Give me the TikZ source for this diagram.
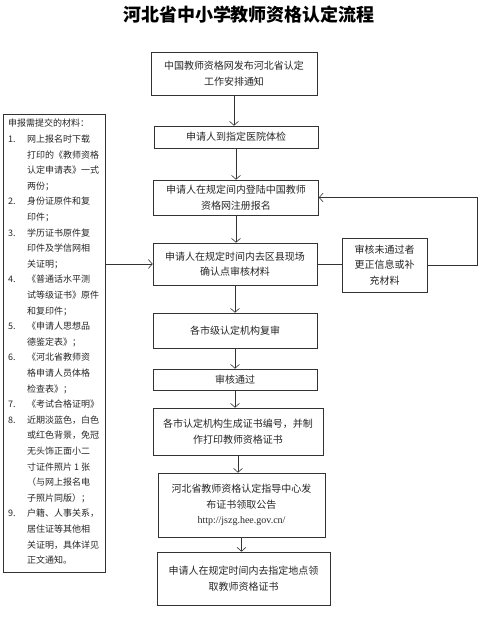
\documentclass[tikz,border=0pt]{standalone}
\usepackage{fontspec}
\usetikzlibrary{arrows.meta,positioning}
\newfontfamily\cjk{Noto Sans CJK SC}
\newfontfamily\urlfont{Liberation Serif}
\newcommand{\itemno}[1]{\makebox[19pt][l]{#1}}
\newcommand{\itemind}{\hspace*{19pt}}

\tikzset{
  stepbox/.style={draw=black!80, line width=0.6pt, rectangle, align=center,
    inner sep=2pt, text=black!85, font=\cjk\fontsize{10}{15.5}\selectfont},
  arr/.style={draw=black!80, line width=0.6pt, -{Straight Barb[length=4pt,width=9pt]}},
  link/.style={draw=black!80, line width=0.6pt},
}

\begin{document}
\begin{tikzpicture}[x=1pt,y=-1pt]
  \useasboundingbox (0,0) rectangle (480,625);

  \node (title) at (249,15) {\cjk\bfseries\fontsize{18}{20}\selectfont 河北省中小学教师资格认定流程};

  % main flow
  \node[stepbox, minimum width=166pt, minimum height=43pt] (notice) at (234,73.5)
    {中国教师资格网发布河北省认定\\工作安排通知};
  \node[stepbox, minimum width=164pt, minimum height=22pt] (exam) at (236,137)
    {申请人到指定医院体检};
  \node[stepbox, minimum width=165pt, minimum height=35pt] (reg) at (236,197.5)
    {申请人在规定间内登陆中国教师\\资格网注册报名};
  \node[stepbox, minimum width=164pt, minimum height=42pt] (check) at (235,264)
    {申请人在规定时间内去区县现场\\确认点审核材料};
  \node[stepbox, minimum width=164pt, minimum height=35pt] (review) at (235,330.5)
    {各市级认定机构复审};
  \node[stepbox, minimum width=164pt, minimum height=21pt] (pass) at (235,379.5)
    {审核通过};
  \node[stepbox, minimum width=170pt, minimum height=47pt] (cert) at (238,431.5)
    {各市认定机构生成证书编号，并制\\作打印教师资格证书};
  \node[stepbox, minimum width=167pt, minimum height=64pt] (announce) at (241.5,505)
    {河北省教师资格认定指导中心发\\布证书领取公告\\{\urlfont\fontsize{10}{15.5}\selectfont http://jszg.hee.gov.cn/}};
  \node[stepbox, minimum width=173pt, minimum height=53pt] (collect) at (243.5,578.5)
    {申请人在规定时间内去指定地点领\\取教师资格证书};

  % side boxes
  \node[stepbox, minimum width=85pt, minimum height=54pt] (fix) at (384.5,265)
    {审核未通过者\\更正信息或补\\充材料};
  \node[draw=black!80, line width=0.6pt, minimum width=102pt, minimum height=458pt] (materials) at (54,343) {};
  \node[anchor=north west, inner sep=0pt, align=left, text=black!85,
    font=\cjk\fontsize{9}{15.6}\selectfont] (materialstext) at (8,119) {%
    申报需提交的材料：\\
    \itemno{1.}网上报名时下载\\
    \itemind 打印的《教师资格\\
    \itemind 认定申请表》一式\\
    \itemind 两份；\\
    \itemno{2.}身份证原件和复\\
    \itemind 印件；\\
    \itemno{3.}学历证书原件复\\
    \itemind 印件及学信网相\\
    \itemind 关证明；\\
    \itemno{4.}《普通话水平测\\
    \itemind 试等级证书》原件\\
    \itemind 和复印件；\\
    \itemno{5.}《申请人思想品\\
    \itemind 德鉴定表》；\\
    \itemno{6.}《河北省教师资\\
    \itemind 格申请人员体格\\
    \itemind 检查表》；\\
    \itemno{7.}《考试合格证明》\\
    \itemno{8.}近期淡蓝色，白色\\
    \itemind 或红色背景，免冠\\
    \itemind 无头饰正面小二\\
    \itemind 寸证件照片 1 张\\
    \itemind （与网上报名电\\
    \itemind 子照片同版）；\\
    \itemno{9.}户籍、人事关系，\\
    \itemind 居住证等其他相\\
    \itemind 关证明，具体详见\\
    \itemind 正文通知。};

  \coordinate (turn) at (477,197.5);

  % connectors
  \draw[arr] (notice.south) -- (notice.south |- exam.north);
  \draw[arr] (exam.south) -- (exam.south |- reg.north);
  \draw[arr] (reg.south) -- (reg.south |- check.north);
  \draw[arr] (check.south) -- (check.south |- review.north);
  \draw[arr] (review.south) -- (review.south |- pass.north);
  \draw[arr] (pass.south) -- (pass.south |- cert.north);
  \draw[arr] (cert.south) -- (cert.south |- announce.north);
  \draw[arr] (announce.south) -- (announce.south |- collect.north);
  \draw[arr] (materials.east |- check.west) -- (check.west);
  \draw[link] (check.east) -- (check.east -| fix.west);
  \draw[arr] (fix.east) -| (turn) -- (reg.east);
\end{tikzpicture}
\end{document}
